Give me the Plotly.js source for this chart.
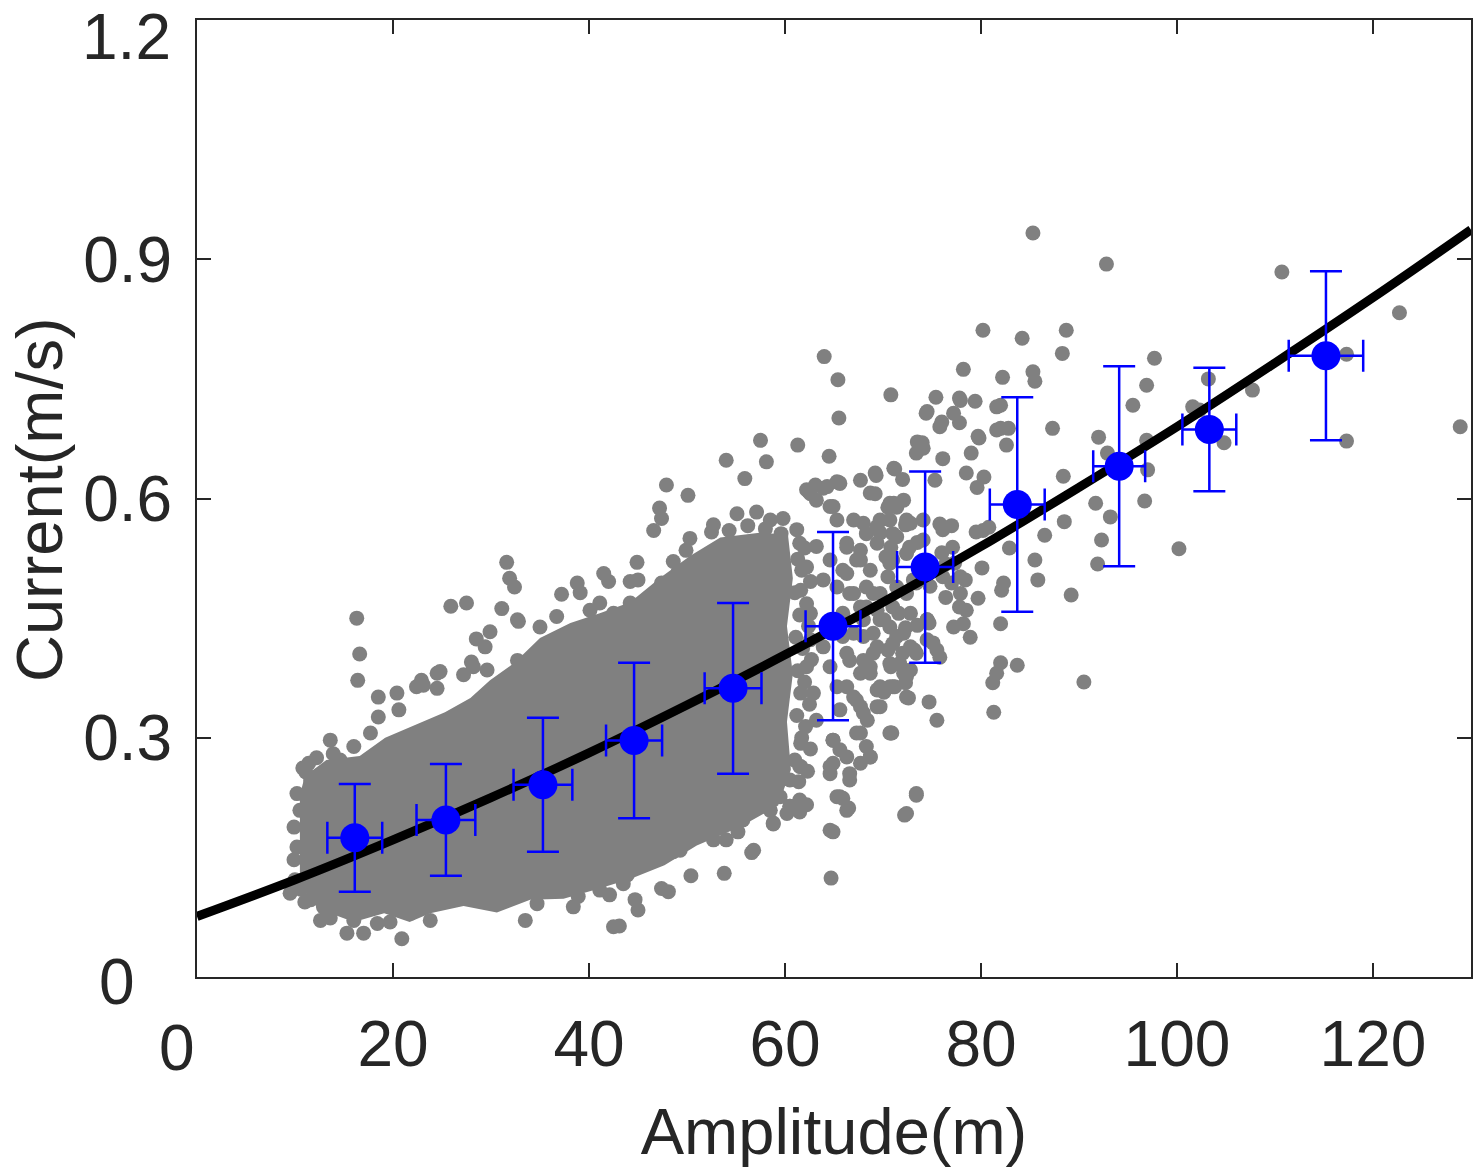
<!DOCTYPE html>
<html>
<head>
<meta charset="utf-8">
<script src="https://cdn.plot.ly/plotly-3.0.1.min.js"></script>
<style>
html,body{margin:0;padding:0;background:#fff;}
#chart{width:1476px;height:1172px;}
</style>
</head>
<body>
<div id="chart"></div>
<script>
// ---- Data ----
// Individual scattered observations (Amplitude m, Current m/s)
const obsX = [
85.3,92.8,110.7,122.7,128.9,80.2,84.2,88.7,88.3,97.7,78.2,82.2,85.3,85.5,70.8,75.4,77.8,79.4,74.4,77.2,76.0,77.8,82.0,87.3,96.9,95.5,103.2,107.7,117.3,117.3,101.6,102.3,104.8,96.9,97.0,92.0,92.9,91.7,96.7,93.2,92.3,91.9,100.2,88.4,88.5,86.5,89.2,90.5,83.7,82.0,81.6,81.2,81.3,82.0,82.9,85.5,85.8,82.3,82.1,80.1,80.2,82.0,82.8,82.6,79.8,79.0,76.1,73.5,74.1,73.4,78.5,80.3,79.6,71.2,72.0,75.3,70.5,71.4,75.8,77.0,72.3,73.5,79.5,80.8,69.7,70.8,70.3,76.0,77.3,77.0,78.4,79.7,77.8,76.4,70.5,71.6,70.1,72.3,73.5,74.7,75.1,75.5,75.8,70.5,72.0,73.2,70.8,72.8,72.3,71.2,70.1,72.6,74.7,75.5,70.8,
64.0,65.4,65.5,61.3,64.5,58.1,57.5,74.5,77.9,74.0,79.7,81.6,81.6,71.1,69.2,67.7,65.5,62.6,63.9,69.2,71.1,
54.0,55.9,47.9,50.1,47.2,47.4,46.6,62.4,63.1,65.3,69.3,75.8,
31.6,31.9,32.4,25.9,27.5,31.1,32.8,37.2,38.8,39.1,41.5,42.0,44.9,44.2,45.0,44.2,41.1,47.4,50.3,49.9,48.6,49.1,51.2,52.7,52.5,55.1,57.1,58.5,59.8,61.2,63.2,64.9,28.5,29.4,29.9,28.0,24.8,22.9,27.2,35.0,36.7,40.1,42.5,
16.3,16.6,16.4,13.6,13.9,11.1,10.2,10.5,9.9,10.2,9.9,10.0,9.5,11.9,11.6,12.9,12.6,13.6,15.3,17.0,16.0,20.9,18.4,19.7,21.8,23.8,33.5,38.4,42.5,34.7,16.0,14.6,12.9,11.6,18.5,20.4,20.6,22.4,24.5,18.5,17.7,24.5,23.1,28.2,29.6,32.7,36.0,32.7,
43.1,38.9,44.7,45.0,42.1,41.1,43.5,43.9,47.4,48.1,50.4,53.8,64.7,56.6,48.6,49.3,49.9,50.1,52.0,52.7,53.0,55.1,55.2,58.8,60.5,61.5,62.2,60.2,64.9,65.9,66.5,66.6,64.6,64.9,67.7,72.2,73.4,60.5,61.5,58.1,58.5,57.4,51.6,53.0,55.7,52.0,
64.9,65.6,66.3,65.6,68.7,70.9,67.7,68.4,67.7,67.0,66.3,69.7,71.0,72.4,71.7,73.4,74.5,72.1,74.5,77.2,69.7,68.7,68.0,69.0,67.0,69.0,71.0,69.7,67.7,69.0,71.0,72.4,73.1,74.8,76.1,77.9,78.5,78.2,78.9,
67.0,68.3,66.3,67.7,66.3,67.7,66.3,68.3,67.0,69.7,71.0,72.4,71.0,72.7,76.1,77.1,76.4,77.9,
62.2,64.3,65.6,68.7,70.7,72.1,64.6,65.3,68.0,69.4,70.7,72.8,74.1,61.5,63.2,66.3,67.7,69.4,71.4,74.1,
62.2,64.6,65.9,67.3,68.7,70.7,72.4,73.8,61.6,63.9,65.3,66.6,68.3,69.7,71.4,73.4,
62.6,65.9,68.0,69.4,70.7,72.8,74.5,62.6,63.9,65.9,68.0,69.4,71.4,72.8,
62.2,64.6,66.6,68.7,70.7,72.1,62.9,65.3,67.3,69.4,70.7,72.4,63.2,65.6,68.0,69.4,
61.6,64.9,67.3,68.3,70.7,61.6,64.6,66.6,68.7,61.5,65.3,66.3,73.4,72.4,64.6,
51.0,53.0,55.4,57.8,59.5,60.5,51.3,53.7,55.7,58.8,61.5,52.3,56.8,54.0,
61.4,62.3,61.0,62.6,61.7,62.1,61.2,62.5,61.6,62.0,61.3,62.7,61.8,61.1,62.4,61.5,62.2,61.0,62.6,61.7,61.3,62.0,
58.0,59.6,56.2,54.3,
10.8,11.4,12.2,10.6,11.0
];
const obsY = [
0.933,0.894,0.884,0.833,0.690,0.811,0.801,0.811,0.782,0.776,0.762,0.752,0.759,0.747,0.730,0.727,0.726,0.722,0.707,0.707,0.696,0.695,0.717,0.688,0.742,0.717,0.750,0.736,0.781,0.672,0.715,0.711,0.670,0.673,0.636,0.677,0.657,0.594,0.597,0.577,0.548,0.518,0.537,0.628,0.571,0.554,0.479,0.370,0.391,0.394,0.381,0.369,0.332,0.443,0.538,0.523,0.498,0.494,0.485,0.513,0.560,0.688,0.688,0.667,0.676,0.657,0.650,0.671,0.663,0.657,0.632,0.627,0.614,0.637,0.624,0.623,0.589,0.589,0.568,0.566,0.567,0.545,0.558,0.564,0.557,0.539,0.527,0.532,0.519,0.494,0.498,0.475,0.464,0.476,0.502,0.456,0.448,0.438,0.441,0.444,0.419,0.410,0.401,0.410,0.406,0.410,0.389,0.385,0.369,0.364,0.357,0.350,0.345,0.322,0.306,
0.778,0.749,0.701,0.667,0.653,0.646,0.673,0.709,0.723,0.670,0.678,0.715,0.686,0.638,0.632,0.623,0.620,0.606,0.613,0.606,0.594,
0.648,0.625,0.617,0.604,0.588,0.575,0.560,0.609,0.617,0.621,0.629,0.690,
0.520,0.500,0.489,0.465,0.469,0.462,0.446,0.480,0.494,0.482,0.506,0.496,0.520,0.496,0.498,0.469,0.469,0.494,0.550,0.535,0.521,0.508,0.506,0.567,0.558,0.581,0.583,0.573,0.575,0.561,0.598,0.590,0.424,0.414,0.433,0.395,0.383,0.372,0.379,0.439,0.452,0.460,0.456,
0.450,0.405,0.372,0.297,0.280,0.257,0.230,0.209,0.188,0.163,0.147,0.122,0.105,0.234,0.097,0.088,0.071,0.074,0.055,0.055,0.071,0.048,0.067,0.069,0.080,0.071,0.071,0.088,0.063,0.092,0.289,0.272,0.255,0.247,0.351,0.356,0.335,0.364,0.362,0.326,0.306,0.381,0.366,0.389,0.385,0.397,0.414,0.448,
0.064,0.101,0.097,0.084,0.103,0.109,0.117,0.128,0.111,0.107,0.127,0.130,0.124,0.156,0.157,0.159,0.180,0.188,0.197,0.172,0.203,0.197,0.182,0.192,0.214,0.207,0.216,0.205,0.182,0.224,0.212,0.247,0.255,0.268,0.268,0.203,0.228,0.247,0.264,0.218,0.209,0.226,0.228,0.232,0.230,0.234,
0.297,0.285,0.276,0.226,0.276,0.306,0.306,0.322,0.339,0.351,0.364,0.339,0.364,0.377,0.393,0.406,0.423,0.431,0.448,0.439,0.364,0.381,0.397,0.406,0.431,0.431,0.418,0.448,0.464,0.481,0.464,0.481,0.498,0.490,0.502,0.481,0.460,0.443,0.426,
0.481,0.464,0.406,0.381,0.506,0.523,0.539,0.556,0.573,0.573,0.556,0.573,0.523,0.539,0.561,0.539,0.518,0.502,
0.611,0.615,0.619,0.607,0.594,0.598,0.590,0.573,0.569,0.565,0.573,0.569,0.573,0.544,0.540,0.544,0.535,0.544,0.552,0.548,
0.514,0.523,0.510,0.523,0.510,0.519,0.531,0.519,0.485,0.498,0.489,0.481,0.489,0.481,0.489,0.494,
0.456,0.456,0.448,0.460,0.439,0.456,0.448,0.423,0.414,0.427,0.427,0.414,0.427,0.414,
0.389,0.389,0.397,0.389,0.393,0.381,0.356,0.364,0.347,0.360,0.364,0.351,0.322,0.335,0.331,0.339,
0.293,0.297,0.306,0.289,0.306,0.264,0.264,0.255,0.276,0.222,0.226,0.209,0.230,0.205,0.184,
0.234,0.222,0.230,0.239,0.226,0.214,0.205,0.201,0.197,0.193,0.218,0.180,0.159,0.172,
0.245,0.258,0.272,0.286,0.300,0.314,0.328,0.342,0.356,0.370,0.384,0.398,0.412,0.426,0.440,0.454,0.468,0.482,0.496,0.510,0.524,0.538,
0.562,0.556,0.566,0.560,
0.262,0.268,0.275,0.110,0.094
];
// Envelope of the saturated (fully overlapping) part of the point cloud
const cloudX = [10.5,11.0,13.2,16.6,19.2,22.2,25.3,27.9,29.9,32.4,35.0,38.1,41.1,44.2,47.2,50.3,53.4,57.4,60.3,60.8,60.2,60.8,60.2,60.6,59.3,55.4,51.0,47.7,44.2,40.8,37.4,34.0,30.6,27.2,23.8,21.7,19.1,16.0,13.6,11.6,10.5];
const cloudY = [0.228,0.252,0.272,0.277,0.300,0.316,0.332,0.350,0.372,0.394,0.425,0.444,0.456,0.470,0.500,0.528,0.551,0.557,0.555,0.500,0.440,0.380,0.320,0.260,0.215,0.188,0.165,0.140,0.123,0.110,0.098,0.097,0.081,0.089,0.080,0.069,0.080,0.069,0.080,0.093,0.120];

// Bin means with standard deviations
const binX    = [16.1,25.4,35.3,44.6,54.7,64.9,74.3,83.7,94.1,103.3,115.2];
const binY    = [0.1745,0.197,0.241,0.2965,0.362,0.440,0.514,0.5925,0.6405,0.6865,0.779];
const binXErr = [2.8,3.0,3.0,2.86,2.9,2.8,2.86,2.8,2.65,2.75,3.8];
const binYErr = [0.0675,0.070,0.084,0.0975,0.107,0.118,0.120,0.1345,0.1255,0.0775,0.106];

// Fitted curve
const fitX = [0,10,20,30,40,50,60,70,80,90,100,110,120,130];
const fitY = [0.076,0.122,0.172,0.225,0.281,0.341,0.404,0.470,0.540,0.614,0.690,0.770,0.852,0.937];

const xTicks = [0,20,40,60,80,100,120];
const xTickText = ['','20','40','60','80','100','120'];
const yTicks = [0,0.3,0.6,0.9,1.2];
const yTickText = ['','0.3','0.6','0.9',''];

const GRAY = '#808080';
const FONT = 'Liberation Sans, Arial, Helvetica, sans-serif';
const TXT = '#262626';

const traces = [
  {x: cloudX, y: cloudY, type:'scatter', mode:'lines', fill:'toself', fillcolor:GRAY,
   line:{width:0, color:GRAY}, hoverinfo:'skip', showlegend:false},
  {x: obsX, y: obsY, type:'scatter', mode:'markers',
   marker:{size:15, color:GRAY, line:{width:0}}, showlegend:false},
  {x: fitX, y: fitY, type:'scatter', mode:'lines',
   line:{color:'#000000', width:9, shape:'spline', smoothing:1}, showlegend:false},
  {x: binX, y: binY, type:'scatter', mode:'markers',
   marker:{size:29, color:'#0000ff', line:{width:0}},
   error_y:{type:'data', array:binYErr, visible:true, color:'#0000ff', thickness:2.5, width:16},
   error_x:{type:'data', array:binXErr, visible:true, color:'#0000ff', thickness:2.5, width:16},
   showlegend:false}
];

const axisCommon = {
  showgrid:false, zeroline:false, showline:true, linecolor:TXT, linewidth:2,
  mirror:'ticks', ticks:'inside', ticklen:14, tickwidth:2, tickcolor:TXT,
  ticklabeloverflow:'allow',
  tickfont:{family:FONT, size:64, color:TXT}
};

const layout = {
  width:1476, height:1172,
  paper_bgcolor:'#ffffff', plot_bgcolor:'#ffffff',
  margin:{l:197, r:5, t:20, b:195},
  font:{family:FONT, color:TXT},
  xaxis: Object.assign({}, axisCommon, {
    range:[0,130], tickmode:'array', tickvals:xTicks, ticktext:xTickText,
    ticklabelstandoff:10,
    title:{text:'Amplitude(m)', font:{family:FONT, size:65, color:TXT}, standoff:30}
  }),
  yaxis: Object.assign({}, axisCommon, {
    range:[0,1.2001], tickmode:'array', tickvals:yTicks, ticktext:yTickText,
    ticklabelstandoff:10
  }),
  annotations:[
    {text:'Current(m/s)', xref:'paper', yref:'paper', x:-0.1240, y:0.4984, textangle:-90,
     xanchor:'center', yanchor:'middle', showarrow:false, borderpad:0,
     font:{family:FONT, size:65, color:TXT}},
    {text:'1.2', xref:'paper', yref:'paper', x:-0.0196, y:1.0209, xanchor:'right', yanchor:'top',
     showarrow:false, borderpad:0, font:{family:FONT, size:64, color:TXT}},
    {text:'0', xref:'paper', yref:'paper', x:-0.0157, y:-0.0742, xanchor:'center', yanchor:'middle',
     showarrow:false, font:{family:FONT, size:64, color:TXT}},
    {text:'0', xref:'paper', yref:'paper', x:-0.0628, y:-0.0055, xanchor:'center', yanchor:'middle',
     showarrow:false, font:{family:FONT, size:64, color:TXT}}
  ]
};

Plotly.newPlot('chart', traces, layout, {staticPlot:true, displayModeBar:false});
</script>
</body>
</html>
